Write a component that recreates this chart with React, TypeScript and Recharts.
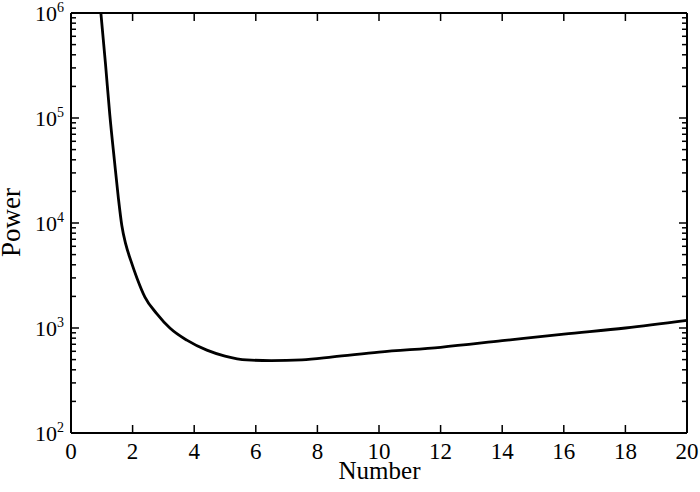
import { LineChart, Line, XAxis, YAxis, Label } from "recharts";

// curve (x = number, y = power)
const numbers = [0.97, 1.12, 1.26, 1.41, 1.54, 1.65, 1.78, 1.94, 2.14, 2.4, 2.79, 3.21, 3.76, 4.41, 5.0, 5.7, 6.5, 7.5, 8.5, 10, 12, 14, 16, 18, 20];
const powers = [1000000, 327000, 107000, 39300, 17100, 9460, 6250, 4400, 3000, 1970, 1365, 1000, 766, 615, 540, 496, 490, 498, 530, 589, 655, 757, 875, 1000, 1180];

const xTicks = [0, 2, 4, 6, 8, 10, 12, 14, 16, 18, 20];
const decades = [2, 3, 4, 5, 6];
const yTicks = decades.flatMap((d) =>
  d === 6 ? [Math.pow(10, d)] : [1, 2, 3, 4, 5, 6, 7, 8, 9].map((m) => m * Math.pow(10, d))
);

const data = numbers.map((n, i) => ({ n, p: powers[i] }));

const FONT = "'Liberation Serif', 'Times New Roman', serif";

const isDecade = (v: number) => {
  const e = Math.round(Math.log10(v));
  return Math.abs(Math.pow(10, e) - v) < 1e-6 * v;
};

const LeftTick = (props: any) => {
  const x = Number(props.x);
  const y = Number(props.y);
  const v = props.payload.value;
  const major = isDecade(v);
  const exp = Math.round(Math.log10(v));
  return (
    <g>
      <path d={`M${x},${y}H${x + (major ? 8 : 5)}`} stroke="#000" strokeWidth={1.5} fill="none" />
      {major && (
        <text x={x - 7} y={y + 8} textAnchor="end" fontSize={22} fontFamily={FONT} fill="#000">
          10<tspan dy={-9} fontSize={14}>{exp}</tspan>
        </text>
      )}
    </g>
  );
};

const RightTick = (props: any) => {
  const x = Number(props.x);
  const y = Number(props.y);
  const major = isDecade(props.payload.value);
  return <path d={`M${x},${y}H${x - (major ? 8 : 5)}`} stroke="#000" strokeWidth={1.5} fill="none" />;
};

const BottomTick = (props: any) => {
  const x = Number(props.x);
  const y = Number(props.y);
  return (
    <g>
      <path d={`M${x},${y}V${y - 8}`} stroke="#000" strokeWidth={1.5} fill="none" />
      <text x={x} y={y + 26} textAnchor="middle" fontSize={23} fontFamily={FONT} fill="#000">
        {props.payload.value}
      </text>
    </g>
  );
};

const TopTick = (props: any) => {
  const x = Number(props.x);
  const y = Number(props.y);
  return <path d={`M${x},${y}V${y + 8}`} stroke="#000" strokeWidth={1.5} fill="none" />;
};

const axisLine = { stroke: "#000", strokeWidth: 2 };

export default function App() {
  return (
    <div style={{ position: "absolute", left: 0, top: 0, background: "#fff" }}>
      <LineChart width={700} height={492} data={data} margin={{ top: 12, right: 12, bottom: 0, left: 0 }}>
        <XAxis
          xAxisId="bottom"
          dataKey="n"
          type="number"
          domain={[0, 20]}
          ticks={xTicks}
          interval={0}
          height={59}
          tickSize={0}
          tickMargin={0}
          tickLine={false}
          stroke="#000"
          axisLine={axisLine}
          tick={BottomTick}
        >
          <Label
            content={() => (
              <text x={379.5} y={479} textAnchor="middle" fontSize={25} fontFamily={FONT} fill="#000">
                Number
              </text>
            )}
          />
        </XAxis>
        <XAxis
          xAxisId="top"
          orientation="top"
          dataKey="n"
          type="number"
          domain={[0, 20]}
          ticks={xTicks}
          interval={0}
          height={1}
          tickSize={0}
          tickMargin={0}
          tickLine={false}
          stroke="#000"
          axisLine={axisLine}
          tick={TopTick}
        />
        <YAxis
          yAxisId="left"
          type="number"
          scale="log"
          domain={[100, 1000000]}
          allowDataOverflow
          ticks={yTicks}
          interval={0}
          width={71}
          tickSize={0}
          tickMargin={0}
          tickLine={false}
          stroke="#000"
          axisLine={axisLine}
          tick={LeftTick}
        >
          <Label
            content={() => (
              <text
                x={20}
                y={222.5}
                transform="rotate(-90 20 222.5)"
                textAnchor="middle"
                fontSize={27}
                fontFamily={FONT}
                fill="#000"
              >
                Power
              </text>
            )}
          />
        </YAxis>
        <YAxis
          yAxisId="right"
          orientation="right"
          type="number"
          scale="log"
          domain={[100, 1000000]}
          allowDataOverflow
          ticks={yTicks}
          interval={0}
          width={1}
          tickSize={0}
          tickMargin={0}
          tickLine={false}
          stroke="#000"
          axisLine={axisLine}
          tick={RightTick}
        />
        <Line
          xAxisId="bottom"
          yAxisId="left"
          dataKey="p"
          type="monotone"
          stroke="#000"
          strokeWidth={2.8}
          dot={false}
          isAnimationActive={false}
        />
      </LineChart>
    </div>
  );
}
